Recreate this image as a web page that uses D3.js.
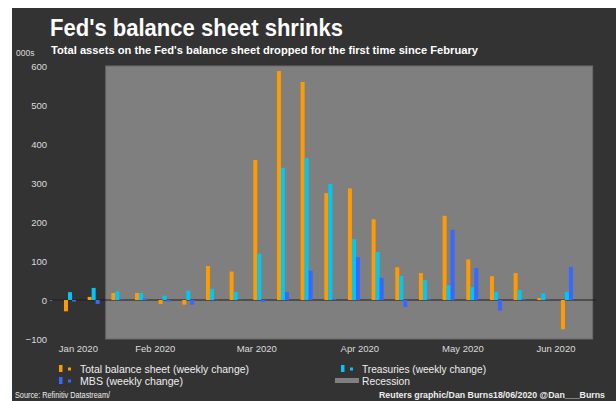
<!DOCTYPE html>
<html>
<head>
<meta charset="utf-8">
<script src="https://cdn.jsdelivr.net/npm/d3@7/dist/d3.min.js"></script>
<style>
  html, body { margin: 0; padding: 0; background: #ffffff; }
  svg { display: block; }
  text { font-family: "Liberation Sans", Arial, sans-serif; }
</style>
</head>
<body>
<svg id="chart" width="616" height="401"></svg>
<script>
// Weekly change in Fed balance sheet items, billions of dollars (000s of millions)
const weeks = [
  "2020-01-15", "2020-01-22", "2020-01-29", "2020-02-05", "2020-02-12",
  "2020-02-19", "2020-02-26", "2020-03-04", "2020-03-11", "2020-03-18",
  "2020-03-25", "2020-04-01", "2020-04-08", "2020-04-15", "2020-04-22",
  "2020-04-29", "2020-05-06", "2020-05-13", "2020-05-20", "2020-05-27",
  "2020-06-03", "2020-06-10", "2020-06-17"
];
const totalChange = [9, -29, 8, 18, 18, -10, -12, 87, 73, 359, 587, 559, 274, 286, 207, 84, 69, 216, 104, 61, 69, 5, -75];
const treasuriesChange = [19, 20, 31, 22, 18, 11, 24, 29, 21, 119, 339, 364, 297, 156, 123, 62, 51, 38, 33, 21, 26, 17, 21];
const mbsChange = [-3, -4, -10, 1, 4, -4, -12, 1, 1, -5, 20, 75, 3, 110, 57, -18, 2, 180, 82, -27, 2, 1, 85];

const seriesKeys = ["total", "treasuries", "mbs"];
const seriesLabels = ["Total balance sheet (weekly change)", "Treasuries (weekly change)", "MBS (weekly change)"];
const seriesColors = ["#ff9a00", "#00c8f5", "#3868ff"];

const recession = ["2020-02-01", "2020-06-24"];
const yTicks = [-100, 0, 100, 200, 300, 400, 500, 600];
const xDomain = ["2020-01-15T12:00:00", "2020-06-25T00:00:00"];

const title = "Fed's balance sheet shrinks";
const subtitle = "Total assets on the Fed's balance sheet dropped for the first time since February";
const unitLabel = "000s";
const sourceText = "Source: Refinitiv Datastream/";
const creditText = "Reuters graphic/Dan Burns18/06/2020 @Dan___Burns";

const parse = d3.isoParse;
const rows = weeks.map((w, i) => ({
  date: parse(w),
  total: totalChange[i],
  treasuries: treasuriesChange[i],
  mbs: mbsChange[i]
}));

const svg = d3.select("#chart");

// dark panel
svg.append("rect").attr("x", 12).attr("y", 8).attr("width", 604).attr("height", 393).attr("fill", "#333333");

const plotLeft = 50, plotRight = 596, plotTop = 66, plotBottom = 339;

const x = d3.scaleTime().domain(xDomain.map(parse)).range([plotLeft, plotRight]);
const y = d3.scaleLinear().domain([-100, 600]).range([plotBottom, plotTop]);
const sub = d3.scaleBand().domain(seriesKeys).range([-8, 4]).padding(0);

svg.append("defs").append("clipPath").attr("id", "plotClip")
  .append("rect").attr("x", plotLeft).attr("y", 0).attr("width", plotRight - plotLeft).attr("height", 401);

// recession shading
svg.append("rect")
  .attr("x", x(parse(recession[0])))
  .attr("y", y(600))
  .attr("width", x(parse(recession[1])) - x(parse(recession[0])))
  .attr("height", y(-100) - y(600))
  .attr("fill", "#7f7f7f")
  .attr("stroke", "#6c6c6c")
  .attr("stroke-width", 1);

// zero line
svg.append("line")
  .attr("x1", plotLeft).attr("x2", plotRight)
  .attr("y1", y(0)).attr("y2", y(0))
  .attr("stroke", "#1e1e1e").attr("stroke-width", 1);

// bars
const plot = svg.append("g").attr("clip-path", "url(#plotClip)");
seriesKeys.forEach((key, si) => {
  plot.selectAll(null).data(rows).enter().append("rect")
    .attr("x", d => x(d.date) + sub(key))
    .attr("width", sub.bandwidth())
    .attr("y", d => y(Math.max(0, d[key])))
    .attr("height", d => Math.abs(y(d[key]) - y(0)))
    .attr("fill", seriesColors[si]);
});

// y axis labels
const yAxis = svg.append("g").attr("transform", `translate(47,0)`)
  .call(d3.axisLeft(y).tickValues(yTicks).tickSize(0).tickPadding(0).tickFormat(d3.format("d")));
yAxis.select(".domain").remove();
yAxis.selectAll("text").attr("fill", "#dcdcdc").attr("font-size", 9.5)
  .attr("font-family", "'Liberation Sans', Arial, sans-serif");

// x axis month labels, centred in the visible part of each month
const [d0, d1] = x.domain();
const monthMids = d3.timeMonth.range(d3.timeMonth.floor(d0), d1).map(m => {
  const a = Math.max(+m, +d0), b = Math.min(+d3.timeMonth.offset(m, 1), +d1);
  return new Date((a + b) / 2);
});
const xAxis = svg.append("g").attr("transform", `translate(0,${plotBottom})`)
  .call(d3.axisBottom(x).tickValues(monthMids).tickSize(0).tickPadding(6).tickFormat(d3.timeFormat("%b %Y")));
xAxis.select(".domain").remove();
xAxis.selectAll("text").attr("fill", "#dcdcdc").attr("font-size", 9.5)
  .attr("font-family", "'Liberation Sans', Arial, sans-serif");

// titles
svg.append("text").attr("x", 50).attr("y", 36).text(title)
  .attr("fill", "#ffffff").attr("font-weight", "bold").attr("font-size", 24)
  .attr("textLength", 293).attr("lengthAdjust", "spacingAndGlyphs");
svg.append("text").attr("x", 51).attr("y", 54).text(subtitle)
  .attr("fill", "#ffffff").attr("font-weight", "bold").attr("font-size", 11)
  .attr("textLength", 427).attr("lengthAdjust", "spacingAndGlyphs");
svg.append("text").attr("x", 16).attr("y", 56).text(unitLabel)
  .attr("fill", "#dcdcdc").attr("font-size", 8.5);

// legend
const legend = svg.append("g");
const legendItems = [
  { label: seriesLabels[0], color: seriesColors[0], x: 59, y: 369, w: 169 },
  { label: seriesLabels[2], color: seriesColors[2], x: 59, y: 381, w: 103 },
  { label: seriesLabels[1], color: seriesColors[1], x: 341, y: 369, w: 124 }
];
legendItems.forEach(it => {
  legend.append("rect").attr("x", it.x).attr("y", it.y - 4).attr("width", 3.5).attr("height", 7).attr("fill", it.color);
  legend.append("rect").attr("x", it.x + 9).attr("y", it.y - 1.5).attr("width", 3).attr("height", 3).attr("fill", it.color);
  legend.append("text").attr("x", it.x + 21).attr("y", it.y + 3.8).text(it.label)
    .attr("fill", "#eeeeee").attr("font-size", 11)
    .attr("textLength", it.w).attr("lengthAdjust", "spacingAndGlyphs");
});
legend.append("rect").attr("x", 335).attr("y", 378).attr("width", 24).attr("height", 5).attr("fill", "#7f7f7f");
legend.append("text").attr("x", 362).attr("y", 384.8).text("Recession")
  .attr("fill", "#eeeeee").attr("font-size", 11)
  .attr("textLength", 48).attr("lengthAdjust", "spacingAndGlyphs");

// footer
svg.append("text").attr("x", 15).attr("y", 398).text(sourceText)
  .attr("fill", "#eeeeee").attr("font-size", 9)
  .attr("textLength", 95).attr("lengthAdjust", "spacingAndGlyphs");
svg.append("text").attr("x", 605).attr("y", 398).attr("text-anchor", "end").text(creditText)
  .attr("fill", "#eeeeee").attr("font-weight", "bold").attr("font-size", 9)
  .attr("textLength", 226).attr("lengthAdjust", "spacingAndGlyphs");
</script>
</body>
</html>
